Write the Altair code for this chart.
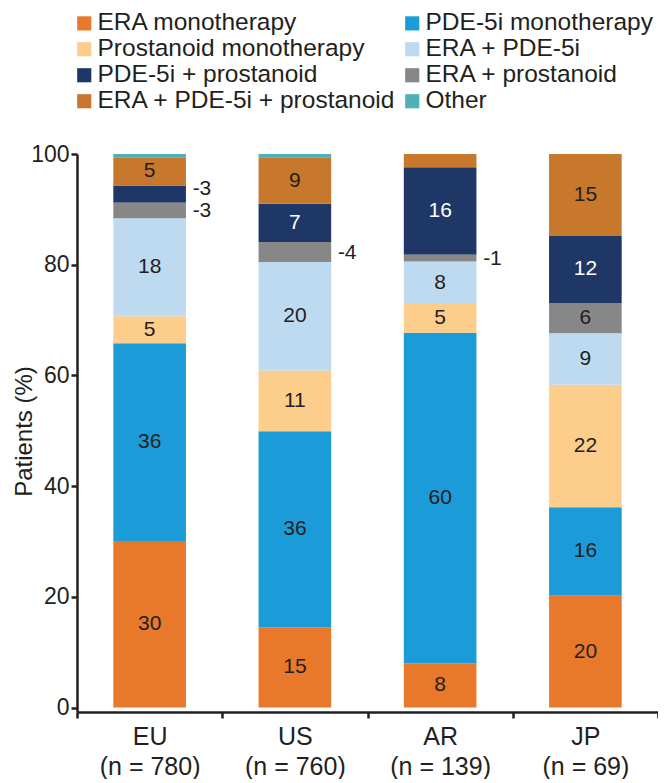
import altair as alt
import pandas as pd

FONT = "Liberation Sans"
TXT = "#231F20"

regions = ["EU", "US", "AR", "JP"]
sample_sizes = [780, 760, 139, 69]

categories = [
    "ERA monotherapy", "PDE-5i monotherapy",
    "Prostanoid monotherapy", "ERA + PDE-5i",
    "PDE-5i + prostanoid", "ERA + prostanoid",
    "ERA + PDE-5i + prostanoid", "Other",
]
colors = ["#E8792A", "#1B9BD7", "#FDCD8C", "#BEDAF1",
          "#1E3766", "#878787", "#C7782D", "#4DB1B8"]
# stacking order from bottom (ERA + prostanoid sits below PDE-5i + prostanoid)
stack_rank = [0, 1, 2, 3, 5, 4, 6, 7]

# values in category order
eu_values = [30.1, 35.7, 4.9, 17.7, 3.1, 2.8, 5.1, 0.6]
us_values = [14.5, 35.4, 11.0, 19.6, 6.9, 3.6, 8.4, 0.6]
ar_values = [8.0, 59.7, 5.2, 7.7, 15.8, 1.2, 2.4, 0.0]
jp_values = [20.2, 16.0, 22.1, 9.3, 12.1, 5.5, 14.8, 0.0]

eu_inside = ["30", "36", "5", "18", "", "", "5", ""]
us_inside = ["15", "36", "11", "20", "7", "", "9", ""]
ar_inside = ["8", "60", "5", "8", "16", "", "", ""]
jp_inside = ["20", "16", "22", "9", "12", "6", "15", ""]

eu_outside = ["", "", "", "", "-3", "-3", "", ""]
us_outside = ["", "", "", "", "", "-4", "", ""]
ar_outside = ["", "", "", "", "", "-1", "", ""]
jp_outside = ["", "", "", "", "", "", "", ""]

all_values = [eu_values, us_values, ar_values, jp_values]
all_inside = [eu_inside, us_inside, ar_inside, jp_inside]
all_outside = [eu_outside, us_outside, ar_outside, jp_outside]

rows = []
region_keys = []
for r, n, vals, ins, outs in zip(regions, sample_sizes, all_values, all_inside, all_outside):
    key = f"{r}|(n = {n})"
    region_keys.append(key)
    for c, v, rk, il, ol in zip(categories, vals, stack_rank, ins, outs):
        rows.append(dict(region=key, category=c, value=v, rank=rk, inside=il, outside=ol))
df = pd.DataFrame(rows)

base = alt.Chart(df).transform_stack(
    stack="value", groupby=["region"],
    sort=[alt.SortField("rank", order="ascending")],
    as_=["y0", "y1"],
).transform_calculate(mid="(datum.y0 + datum.y1) / 2")

x_enc = alt.X(
    "region:N", sort=region_keys,
    scale=alt.Scale(paddingInner=0, paddingOuter=0),
    axis=alt.Axis(
        title=None, labelAngle=0, labelExpr="split(datum.label, '|')",
        labelFont=FONT, labelFontSize=25, labelColor=TXT, labelPadding=6,
        labelLineHeight=30, tickBand="extent", tickSize=6, tickWidth=2.5,
        tickColor=TXT, domainColor=TXT, domainWidth=2.5,
    ),
)
y_scale = alt.Scale(domain=[-0.8, 100], nice=False, zero=False)

bars = base.mark_bar(width=alt.RelativeBandSize(0.5)).encode(
    x=x_enc,
    y=alt.Y(
        "y1:Q", scale=y_scale,
        axis=alt.Axis(
            values=[0, 20, 40, 60, 80, 100], title="Patients (%)", grid=False,
            titleFont=FONT, titleFontSize=24, titleFontWeight="normal", titleColor=TXT,
            titleX=-53, titleY=277, titleBaseline="middle", titleAlign="center",
            titleAngle=270,
            labelFont=FONT, labelFontSize=23, labelColor=TXT,
            labelPadding=2, tickSize=6, tickWidth=2.5, tickColor=TXT,
            domainColor=TXT, domainWidth=2.5,
        ),
    ),
    y2="y0:Q",
    color=alt.Color(
        "category:N",
        scale=alt.Scale(domain=categories, range=colors),
        legend=alt.Legend(
            title=None, orient="none", legendX=-5, legendY=-143, columns=2,
            direction="horizontal",
            symbolType="square", symbolSize=200, symbolStrokeWidth=0,
            symbolOpacity=1, labelFont=FONT, labelFontSize=24.5, labelColor=TXT,
            labelOffset=1, rowPadding=1, columnPadding=4, labelLimit=500,
        ),
    ),
)

inside = base.transform_filter("datum.inside != ''").mark_text(
    font=FONT, fontSize=21
).encode(
    x=alt.X("region:N", sort=region_keys),
    y=alt.Y("mid:Q", scale=y_scale),
    text="inside:N",
    color=alt.condition(
        "datum.category == 'PDE-5i + prostanoid'", alt.value("white"), alt.value(TXT)
    ),
)

outside = base.transform_filter(
    "datum.outside != '' && datum.category != 'PDE-5i + prostanoid'"
).mark_text(font=FONT, fontSize=21, align="left", dx=43, dy=1, color=TXT).encode(
    x=alt.X("region:N", sort=region_keys),
    y=alt.Y("mid:Q", scale=y_scale),
    text="outside:N",
)

outside_up = base.transform_filter(
    "datum.outside != '' && datum.category == 'PDE-5i + prostanoid'"
).mark_text(font=FONT, fontSize=21, align="left", dx=43, dy=-5, color=TXT).encode(
    x=alt.X("region:N", sort=region_keys),
    y=alt.Y("mid:Q", scale=y_scale),
    text="outside:N",
)

chart = alt.layer(bars, inside, outside, outside_up).properties(
    width=581, height=558,
    autosize=alt.AutoSizeParams(type="none"),
    padding={"left": 69, "top": 146, "right": 0, "bottom": 67},
).configure_view(stroke=None)

chart.save("out.html", embed_options={"renderer": "svg", "actions": False})
